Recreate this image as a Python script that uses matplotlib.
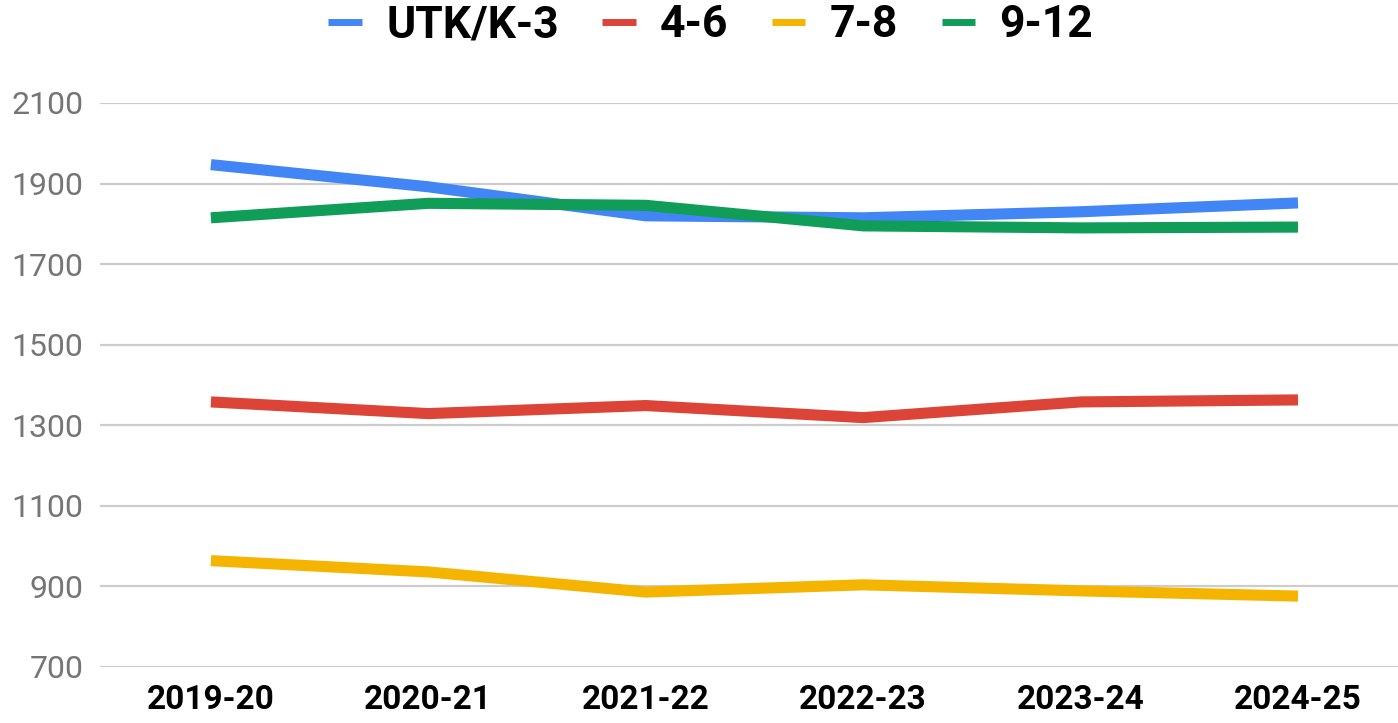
import matplotlib
matplotlib.use("Agg")
import matplotlib.pyplot as plt
from matplotlib.lines import Line2D

plt.rcParams['font.family'] = ['Roboto', 'DejaVu Sans']

# School years and enrolment by grade band
years = ["2019-20", "2020-21", "2021-22", "2022-23", "2023-24", "2024-25"]
series_names = ["UTK/K-3", "4-6", "7-8", "9-12"]
utk_k3 = [1947, 1892, 1820, 1815, 1830, 1852]
g4_6 = [1358, 1329, 1349, 1319, 1358, 1363]
g7_8 = [964, 936, 886, 904, 889, 876]
g9_12 = [1815, 1851, 1846, 1795, 1790, 1792]
y_ticks = [700, 900, 1100, 1300, 1500, 1700, 1900, 2100]

colors = ["#4285F4", "#DB4437", "#F4B400", "#0F9D58"]
all_series = [utk_k3, g4_6, g7_8, g9_12]

W, H = 1398, 723
fig = plt.figure(figsize=(W / 100, H / 100), dpi=100)
ax = fig.add_axes([100 / W, (H - 667) / H, (W - 100) / W, (667 - 103) / H])

x = list(range(len(years)))
for vals, col in zip(all_series, colors):
    ax.plot(x, vals, color=col, lw=8, solid_capstyle='butt',
            solid_joinstyle='round', clip_on=False, zorder=3)

ax.set_ylim(700, 2100)
ax.set_xlim(-0.51, 5.46)
ax.set_yticks(y_ticks)
ax.set_yticklabels([str(v) for v in y_ticks])
ax.set_xticks(x)
ax.set_xticklabels(years)

ax.grid(axis='y', color='#cccccc', lw=1.6, zorder=0)
ax.grid(axis='x', visible=False)
for s in ax.spines.values():
    s.set_visible(False)

ax.tick_params(axis='y', length=0, pad=12, labelsize=23, labelcolor='#757575')
ax.tick_params(axis='x', length=0, pad=12, labelsize=24, labelcolor='black')
for lbl in ax.get_xticklabels():
    lbl.set_fontweight('bold')

handles = [Line2D([0], [0], color=c, lw=5, solid_capstyle='butt') for c in colors]
fig.legend(handles, series_names, loc='upper center', bbox_to_anchor=(0.5085, 1.0),
           ncol=4, frameon=False, prop={'weight': 'bold', 'size': 32},
           handlelength=0.75, handletextpad=0.55, columnspacing=0.98,
           borderaxespad=0, borderpad=0.1)

fig.savefig("out.png", dpi=100, facecolor='white')
